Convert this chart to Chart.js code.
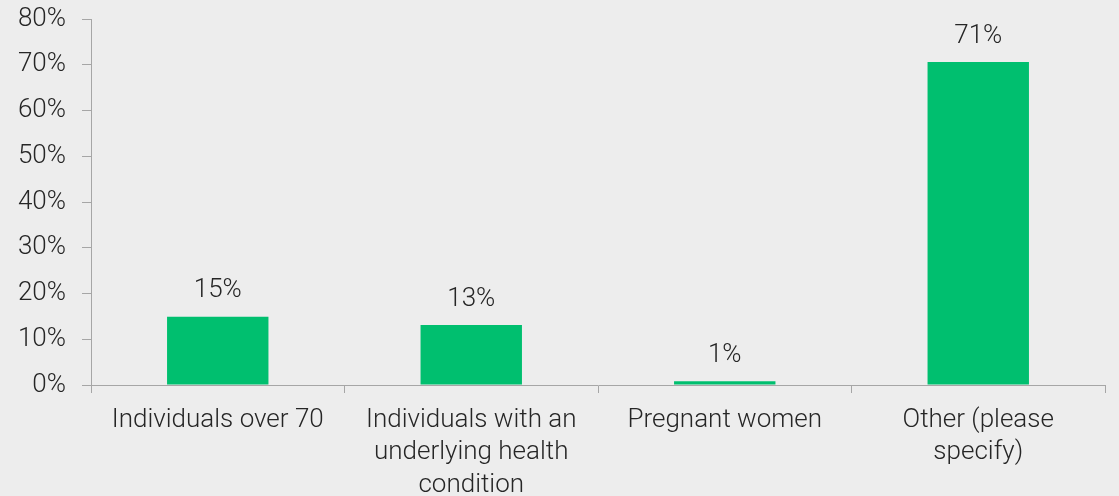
<!DOCTYPE html>
<html>
<head>
<meta charset="utf-8">
<script src="https://cdn.jsdelivr.net/npm/chart.js@4/dist/chart.umd.min.js"></script>
<style>
  html, body { margin: 0; padding: 0; background: #EDEDED; }
  #wrap { width: 1119px; height: 496px; }
</style>
</head>
<body>
<div id="wrap"><canvas id="c" width="1119" height="496"></canvas></div>
<script>
const categories = [
  ["Individuals over 70"],
  ["Individuals with an", "underlying health", "condition"],
  ["Pregnant women"],
  ["Other (please", "specify)"]
];
const values = [14.9, 13.1, 0.8, 70.6];
const valueLabels = ["15%", "13%", "1%", "71%"];
const yTicks = [0, 10, 20, 30, 40, 50, 60, 70, 80];

const FONT = "Roboto";
const TEXT = "#262626";
const AXIS = "#A6A6A6";
const GREEN = "#00BF6F";

const valueLabelPlugin = {
  id: "valueLabels",
  afterDatasetsDraw(chart) {
    const ctx = chart.ctx;
    const meta = chart.getDatasetMeta(0);
    ctx.save();
    ctx.font = "300 26px " + FONT;
    ctx.fillStyle = TEXT;
    ctx.textAlign = "center";
    ctx.textBaseline = "bottom";
    meta.data.forEach((bar, i) => {
      ctx.fillText(valueLabels[i], bar.x, bar.y - 13);
    });
    ctx.restore();
  }
};

new Chart(document.getElementById("c"), {
  type: "bar",
  data: {
    labels: categories,
    datasets: [{
      data: values,
      backgroundColor: GREEN,
      borderWidth: 0,
      categoryPercentage: 1.0,
      barPercentage: 0.4
    }]
  },
  options: {
    responsive: false,
    animation: false,
    layout: { padding: { left: 18, right: 14, top: 19, bottom: 0 } },
    plugins: { legend: { display: false }, tooltip: { enabled: false } },
    scales: {
      x: {
        offset: true,
        grid: { display: true, offset: true, drawOnChartArea: false, drawTicks: true, tickLength: 8, color: AXIS, lineWidth: 1 },
        border: { display: true, color: AXIS, width: 1 },
        ticks: { color: TEXT, font: { family: FONT, size: 26, weight: 300, lineHeight: 1.25 }, padding: 11, maxRotation: 0, autoSkip: false },
        afterFit(scale) { scale.height = 111; scale.paddingLeft = 0; scale.paddingRight = 0; }
      },
      y: {
        min: 0, max: 80,
        afterBuildTicks(scale) { scale.ticks = yTicks.map(v => ({ value: v })); },
        grid: { display: true, drawOnChartArea: false, drawTicks: true, tickLength: 9, color: AXIS, lineWidth: 1 },
        border: { display: true, color: AXIS, width: 1 },
        ticks: { color: TEXT, font: { family: FONT, size: 26, weight: 300 }, padding: 16, callback: v => v + "%" },
        afterFit(scale) { scale.width = 73; scale.paddingTop = 0; scale.paddingBottom = 0; }
      }
    }
  },
  plugins: [valueLabelPlugin]
});
</script>
</body>
</html>
